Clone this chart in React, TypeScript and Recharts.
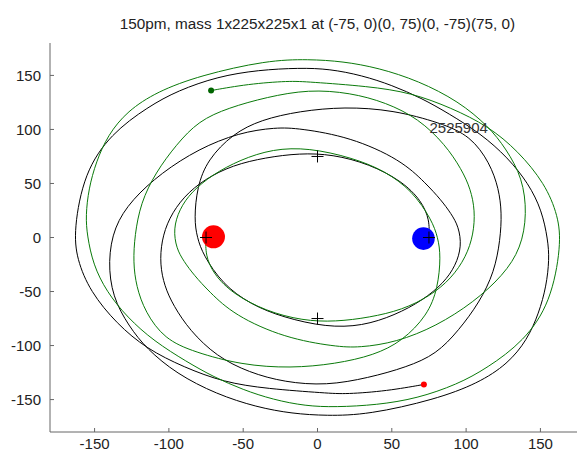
import React from "react";
import { ComposedChart, Line, Scatter, XAxis, YAxis } from "recharts";

const TITLE = "150pm, mass 1x225x225x1 at (-75, 0)(0, 75)(0, -75)(75, 0)";
const STEP_LABEL = "2525904";

const xTicks = [-150, -100, -50, 0, 50, 100, 150];
const yTicks = [-150, -100, -50, 0, 50, 100, 150];

// trace of the particle that started at (75, 0)
const blackOrbit: [number, number][] = [
  [75, 0], [75.5, 16], [70, 34], [57, 52], [35, 68], [10, 77], [-12, 78],
  [-35, 74], [-57, 67], [-76, 54], [-90, 38], [-100, 18], [-105, -3], [-106, -25],
  [-103, -45], [-97, -63], [-86, -86], [-68, -110], [-46, -125], [-22, -134],
  [6, -137], [34, -130], [60, -120], [80, -108], [95, -86], [109, -60], [119, -32],
  [123, -2], [124, 23], [122, 45], [116, 69], [103, 94], [83, 106], [51, 118],
  [18, 121], [-12, 117],
  [-38, 109], [-57, 96], [-74, 72], [-81, 47], [-83, 17], [-81, 0], [-77, -16],
  [-64, -43], [-45, -62], [-23, -74], [6, -83], [30, -82], [52, -72], [71, -58],
  [85, -42], [93, -26], [97, -8], [95, 10], [90, 22], [83, 35], [73, 50], [56, 72],
  [22, 93], [-12, 101], [-28, 102],
  [-53, 97], [-80, 82], [-105, 60], [-125, 35], [-137, 10], [-141, -22], [-138, -55],
  [-127, -82], [-115, -103], [-95, -126], [-68, -145], [-41, -157], [-17, -163],
  [6, -165], [34, -164], [79, -150], [108, -135], [128, -117], [141, -95],
  [149, -70], [154, -45], [156, -20], [155, -2],
  [151, 25], [142, 50], [128, 74], [110, 96], [88, 115], [70, 129], [50, 141],
  [30, 150], [8, 156], [-12, 157], [-40, 155], [-67, 149], [-94, 136], [-114, 121],
  [-139, 96], [-157, 60], [-164, 7], [-162, -20], [-153, -50], [-135, -80],
  [-115, -103], [-90, -120], [-63, -134], [-34, -140], [6, -144], [19, -145],
  [47, -142], [71.6, -136],
];

// trace of the particle that started at (-75, 0)
const greenOrbit: [number, number][] = [
  [-75, 0], [-75.5, -16], [-70, -34], [-57, -52], [-35, -68], [-10, -77], [12, -78],
  [35, -74], [57, -67], [76, -54], [90, -38], [100, -18], [105, 3], [106, 25],
  [103, 45], [97, 63], [86, 86], [68, 110], [46, 125], [22, 134],
  [-6, 137], [-34, 130], [-60, 120], [-80, 108], [-95, 86], [-109, 60], [-119, 32],
  [-123, 2], [-124, -23], [-122, -45], [-116, -69], [-103, -94], [-83, -106], [-51, -118],
  [-18, -121], [12, -117],
  [38, -109], [57, -96], [74, -72], [81, -47], [83, -17], [81, 0], [77, 16],
  [64, 43], [45, 62], [23, 74], [-6, 83], [-30, 82], [-52, 72], [-71, 58],
  [-85, 42], [-93, 26], [-97, 8], [-95, -10], [-90, -22], [-83, -35], [-73, -50], [-56, -72],
  [-22, -93], [12, -101], [28, -102],
  [53, -97], [80, -82], [105, -60], [125, -35], [137, -10], [141, 22], [138, 55],
  [127, 82], [115, 103], [95, 126], [68, 145], [41, 157], [17, 163],
  [-6, 165], [-34, 164], [-79, 150], [-108, 135], [-128, 117], [-141, 95],
  [-149, 70], [-154, 45], [-156, 20], [-155, 2],
  [-151, -25], [-142, -50], [-128, -74], [-110, -96], [-88, -115], [-70, -129], [-50, -141],
  [-30, -150], [-8, -156], [12, -157], [40, -155], [67, -149], [94, -136], [114, -121],
  [139, -96], [157, -60], [164, -7], [162, 20], [153, 50], [135, 80],
  [115, 103], [90, 120], [63, 134], [34, 140], [-6, 144], [-19, 145],
  [-47, 142], [-71.6, 136],
];

const startMarks = [
  { x: -75, y: 0 },
  { x: 0, y: 75 },
  { x: 0, y: -75 },
  { x: 75, y: 0 },
];

const redBody = [{ x: -70, y: 0.6 }];
const blueBody = [{ x: 71.3, y: -1 }];
const blackEnd = [{ x: 71.6, y: -136 }];
const greenEnd = [{ x: -71.6, y: 136 }];
const stepLabelPos = [{ x: 95, y: 101.5 }];

const toRows = (pts: [number, number][]) => pts.map(([x, y]) => ({ x, y }));

const dotShape = (r: number, fill: string) => (p: any) =>
  <circle cx={p.cx} cy={p.cy} r={r} fill={fill} />;

const PlusShape = (p: any) => (
  <g stroke="#000" strokeWidth={1}>
    <line x1={p.cx - 6} x2={p.cx + 6} y1={p.cy} y2={p.cy} />
    <line x1={p.cx} x2={p.cx} y1={p.cy - 6} y2={p.cy + 6} />
  </g>
);

const LabelShape = (p: any) => (
  <text x={p.cx} y={p.cy} textAnchor="middle" dominantBaseline="central" fontSize={15} fill="#333">
    {STEP_LABEL}
  </text>
);

const axisStroke = "#666";

export default function App() {
  return (
    <div
      style={{
        position: "absolute",
        left: 0,
        top: 0,
        width: 577,
        height: 452,
        overflow: "hidden",
        background: "#fff",
        fontFamily: '"Liberation Sans", Arial, sans-serif',
      }}
    >
      <div
        style={{
          position: "absolute",
          left: 50,
          width: 535,
          top: 14,
          textAlign: "center",
          fontSize: 15.3,
          lineHeight: "20px",
          color: "#222",
        }}
      >
        {TITLE}
      </div>
      <ComposedChart width={585} height={452} margin={{ top: 43, right: 0, bottom: 0, left: 0 }}>
        <XAxis
          type="number"
          dataKey="x"
          domain={[-180, 180]}
          ticks={xTicks}
          height={20}
          tickSize={-4}
          tickMargin={10}
          stroke={axisStroke}
          tick={{ fill: "#222", fontSize: 15 }}
          allowDataOverflow
        />
        <XAxis
          xAxisId="top"
          orientation="top"
          type="number"
          dataKey="x"
          domain={[-180, 180]}
          ticks={xTicks}
          height={0}
          tickSize={-4}
          tick={false}
          stroke={axisStroke}
          allowDataOverflow
        />
        <YAxis
          type="number"
          dataKey="y"
          domain={[-180, 180]}
          ticks={yTicks}
          width={50}
          tickSize={-4}
          tickMargin={13}
          stroke={axisStroke}
          tick={{ fill: "#222", fontSize: 15 }}
          allowDataOverflow
        />
        <Line
          data={toRows(blackOrbit)}
          dataKey="y"
          type="basis"
          stroke="#000"
          strokeWidth={1}
          dot={false}
          isAnimationActive={false}
        />
        <Line
          data={toRows(greenOrbit)}
          dataKey="y"
          type="basis"
          stroke="#0a7a0a"
          strokeWidth={1}
          dot={false}
          isAnimationActive={false}
        />
        <Scatter data={redBody} shape={dotShape(11.5, "#ff0000")} isAnimationActive={false} />
        <Scatter data={blueBody} shape={dotShape(11.3, "#0000ff")} isAnimationActive={false} />
        <Scatter data={blackEnd} shape={dotShape(3, "#ff0000")} isAnimationActive={false} />
        <Scatter data={greenEnd} shape={dotShape(3, "#006400")} isAnimationActive={false} />
        <Scatter data={startMarks} shape={PlusShape} isAnimationActive={false} />
        <Scatter data={stepLabelPos} shape={LabelShape} isAnimationActive={false} />
      </ComposedChart>
    </div>
  );
}
